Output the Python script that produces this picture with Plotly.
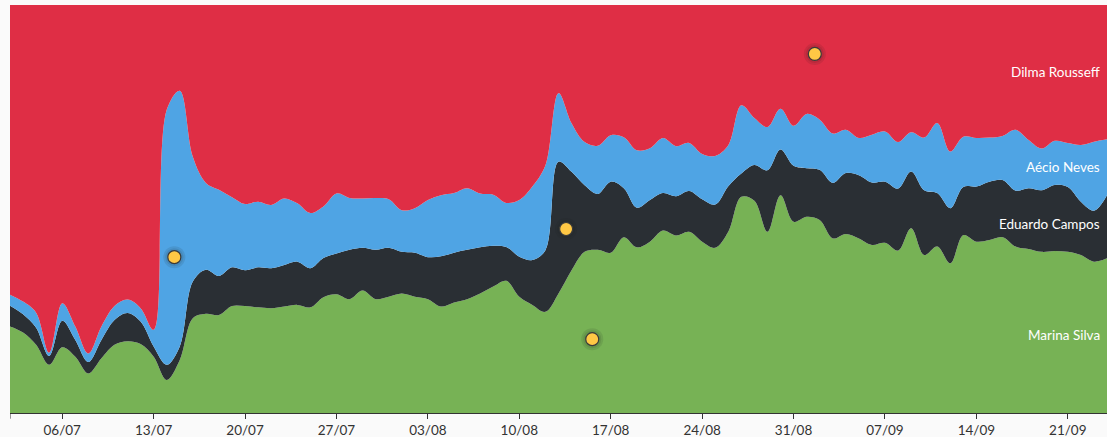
import pandas as pd
import plotly.graph_objects as go

dates = pd.date_range("2014-07-02", "2014-09-24", freq="D")

marina = [21.2, 19.7, 16.7, 11.8, 16.1, 13.8, 9.7, 13.4, 16.7, 17.6, 16.9, 13.8, 8.1, 13.0, 23.2,
          24.3, 24.0, 26.2, 26.2, 25.9, 25.7, 26.1, 26.5, 25.9, 28.4, 29.1, 27.9, 30.0, 27.9, 28.5,
          29.3, 28.5, 27.9, 26.1, 27.1, 27.9, 29.3, 31.0, 32.4, 28.5, 26.5, 24.8, 29.3, 35.0, 39.5,
          40.0, 39.3, 43.1, 40.6, 42.0, 44.7, 43.5, 44.4, 42.0, 40.5, 44.4, 53.0, 52.0, 44.4, 53.4,
          46.9, 48.1, 47.3, 42.8, 43.9, 42.8, 41.2, 41.7, 39.8, 45.3, 38.7, 40.8, 36.7, 43.6, 42.0,
          42.4, 43.1, 40.8, 40.2, 39.5, 39.7, 39.5, 38.7, 37.1, 37.9]
campos = [5.1, 4.5, 4.2, 2.2, 6.5, 4.1, 2.8, 4.5, 6.1, 6.9, 5.5, 2.5, 3.7, 3.3, 9.0,
          10.8, 9.6, 9.5, 8.8, 9.8, 9.8, 10.2, 10.6, 9.6, 9.6, 10.0, 12.1, 10.5, 12.1, 12.0,
          10.2, 10.8, 10.3, 12.3, 12.2, 12.1, 11.3, 10.0, 8.3, 9.8, 11.0, 15.1, 32.3, 24.1, 16.3,
          13.7, 17.4, 12.0, 9.7, 10.2, 9.2, 9.6, 10.0, 10.4, 10.6, 11.2, 5.7, 8.8, 15.1, 11.2,
          13.7, 11.9, 12.3, 13.6, 14.9, 15.5, 15.3, 15.0, 15.2, 13.9, 15.9, 13.1, 13.5, 11.8, 13.5,
          14.3, 14.0, 13.7, 14.9, 15.1, 16.2, 15.9, 13.1, 12.5, 15.5]
aecio = [2.7, 3.1, 3.7, 0.8, 4.3, 3.3, 2.1, 3.3, 3.4, 3.3, 3.3, 4.1, 62.5, 62.7, 30.6,
         21.3, 21.1, 17.2, 16.2, 16.1, 15.5, 16.3, 14.3, 13.5, 12.6, 14.7, 12.7, 12.1, 12.7, 11.9,
         10.2, 10.9, 14.0, 15.0, 14.6, 15.1, 13.2, 12.5, 10.8, 13.9, 18.0, 20.8, 16.8, 11.9, 10.6,
         11.8, 11.4, 12.5, 14.1, 12.7, 13.5, 12.3, 11.8, 11.1, 11.9, 10.0, 16.7, 11.5, 10.6, 10.0,
         9.8, 13.3, 12.3, 12.1, 10.6, 9.1, 11.7, 12.3, 11.4, 9.6, 12.9, 17.2, 13.9, 12.3, 11.9,
         10.8, 10.8, 14.9, 11.8, 10.2, 10.8, 10.8, 13.9, 16.9, 13.7]
dilma = [round(100 - m - c - a, 1) for m, c, a in zip(marina, campos, aecio)]

series_names = ["Marina Silva", "Eduardo Campos", "Aécio Neves", "Dilma Rousseff"]
series_values = [marina, campos, aecio, dilma]
series_colors = ["#77B255", "#2A2F34", "#4FA4E4", "#DF2E45"]
label_y = [19.1, 46.3, 60.3, 83.6]

event_dates = pd.to_datetime(["2014-07-14 14:00", "2014-08-13 14:00",
                              "2014-08-15 14:00", "2014-09-01 15:00"])
event_y = [38.2, 45.1, 18.1, 88.0]

tick_dates = pd.date_range("2014-07-06", "2014-09-21", freq="7D")

FONT = "Lato, Open Sans, sans-serif"

fig = go.Figure()
for name, vals, col in zip(series_names, series_values, series_colors):
    fig.add_trace(go.Scatter(
        x=dates, y=vals, name=name, stackgroup="one", mode="lines",
        line=dict(width=0, shape="spline", smoothing=1, color=col),
        fillcolor=col, hoverinfo="skip"))

# soft glow behind event markers
fig.add_trace(go.Scatter(x=event_dates, y=event_y, mode="markers",
                         marker=dict(size=22, color="rgba(30,30,30,0.10)", line=dict(width=0)),
                         hoverinfo="skip"))
fig.add_trace(go.Scatter(x=event_dates, y=event_y, mode="markers",
                         marker=dict(size=18, color="rgba(30,30,30,0.10)", line=dict(width=0)),
                         hoverinfo="skip"))
fig.add_trace(go.Scatter(x=event_dates, y=event_y, mode="markers",
                         marker=dict(size=13, color="#FFC845", line=dict(width=1.2, color="#3a3a3a")),
                         hoverinfo="skip"))

for name, yv in zip(series_names, label_y):
    fig.add_annotation(x=1, xref="paper", y=yv, yref="y", text=name, showarrow=False,
                       xanchor="right", xshift=-5,
                       font=dict(family=FONT, size=13.5, color="white"))

fig.add_shape(type="line", xref="x", yref="paper", x0=dates[0], x1=dates[0],
              y0=0, y1=-0.014, line=dict(color="#333", width=1))

fig.update_layout(
    width=1107, height=437,
    margin=dict(l=10, r=0, t=5, b=24),
    paper_bgcolor="#fafafa", plot_bgcolor="#fafafa",
    showlegend=False,
    xaxis=dict(range=[dates[0], dates[-1]], tickvals=tick_dates, tickformat="%d/%m",
               ticks="outside", ticklen=5, tickcolor="#333", showline=True,
               linecolor="#333", linewidth=1, showgrid=False, zeroline=False,
               tickfont=dict(family=FONT, size=13.5, color="#333")),
    yaxis=dict(range=[0, 100], visible=False, fixedrange=True),
)

fig.write_html("out.html", config={"displayModeBar": False, "staticPlot": True},
               post_script="document.body.style.margin='0';document.body.style.background='#fafafa';")
